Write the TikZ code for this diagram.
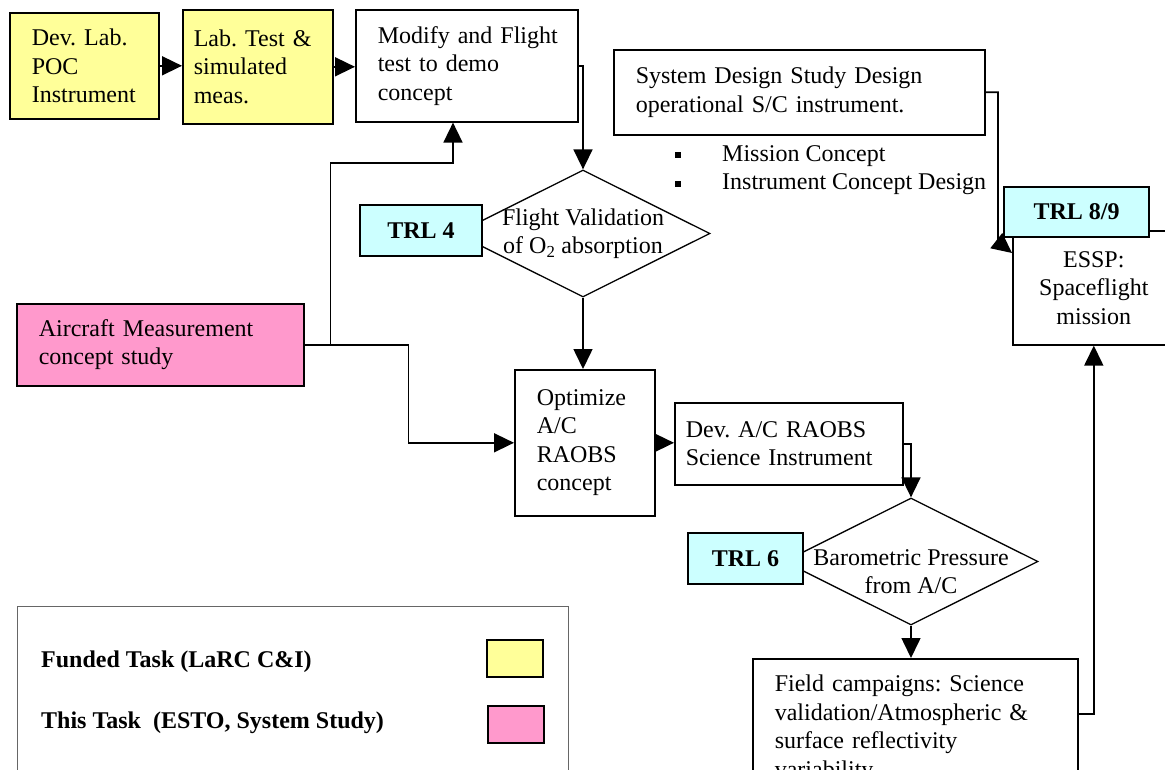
\documentclass[tikz,border=0pt]{standalone}
\usepackage{fontspec}
\setmainfont{Liberation Serif}
\usetikzlibrary{shapes.geometric,arrows.meta,calc}
\definecolor{funded}{HTML}{FFFF99}
\definecolor{thistask}{HTML}{FF99CC}
\definecolor{trlcyan}{HTML}{CCFFFF}
\tikzset{
  task/.style={
    draw,
    rectangle,
    line width=1.6pt,
    anchor=north west,
    align=left,
    inner xsep=22pt,
    inner ysep=4pt,
  },
  decision/.style={
    draw,
    diamond,
    aspect=2,
    line width=1.3pt,
    align=center,
    minimum width=254pt,
    minimum height=127pt,
    inner xsep=-50pt,
    inner ysep=0pt,
  },
  trl/.style={
    draw,
    rectangle,
    line width=2pt,
    fill=trlcyan,
    minimum height=51pt,
    font=\fontsize{24}{28.5}\selectfont\frenchspacing\bfseries,
  },
  swatch/.style={
    draw,
    rectangle,
    line width=1.6pt,
    minimum width=56pt,
    minimum height=37pt,
  },
  flow/.style={
    draw,
    line width=1.6pt,
    -{Triangle[length=20pt,width=19pt]},
  },
}

\begin{document}
\begin{tikzpicture}[x=1pt, y=-1pt, every node/.style={font=\fontsize{24}{28.5}\selectfont\frenchspacing}]
  \useasboundingbox (0,0) rectangle (1165,770);
  \clip (0,0) rectangle (1165,770);

  \node[task, fill=funded, text width=105pt, minimum height=106pt] (lab) at (9,12) {Dev. Lab.\\POC\\Instrument};
  \node[task, fill=funded, inner xsep=11pt, text width=128pt, minimum height=114pt] (labtest) at (182,9) {Lab. Test \&\\simulated\\meas.};
  \node[task, text width=178pt, minimum height=112pt] (modify) at (355,9) {\mbox{Modify and Flight}\\test to demo\\concept};
  \node[task, text width=327pt, minimum height=85pt] (sysdesign) at (613,49) {System Design Study Design\\operational S/C instrument.};
  \node[anchor=north west, align=left, inner sep=0pt] (concepts) at (675,145)
    {\makebox[47pt][l]{\raisebox{3pt}{\rule{6pt}{6pt}}}Mission Concept\\
     \makebox[47pt][l]{\raisebox{3pt}{\rule{6pt}{6pt}}}Instrument Concept Design};
  \node[task, fill=thistask, text width=243pt, minimum height=82pt] (aircraft) at (16,303) {Aircraft Measurement\\concept study};
  \node[decision] (flight) at (583,233.5) {Flight Validation\\of O\textsubscript{2} absorption};
  \node[task, text width=96pt, minimum height=146pt] (optimize) at (514,369) {Optimize\\A/C\\RAOBS\\concept};
  \node[task, inner xsep=11pt, text width=206pt, minimum height=82pt] (devac) at (674,402) {Dev. A/C RAOBS\\Science Instrument};
  \node[decision] (baro) at (911,561.5) {\rule{0pt}{36pt}Barometric Pressure\\from A/C};
  \node[task, text width=281pt, minimum height=140pt] (field) at (752,658) {\mbox{Field campaigns: Science}\\\mbox{validation/Atmospheric \&}\\surface reflectivity\\variability};
  \node[task, align=center, text width=118pt, minimum height=114pt] (essp) at (1012,230) {ESSP:\\Spaceflight\\mission};

  \node[trl, minimum width=122pt] (trlfour) at (421,230.5) {TRL 4};
  \node[trl, minimum width=115pt] (trlsix) at (745.5,558.5) {TRL 6};
  \node[trl, minimum width=145pt, minimum height=50pt] (trleight) at (1076.5,212) {TRL 8/9};

  \node[draw=black!60, line width=1pt, anchor=north west, minimum width=551pt, minimum height=200pt] (legend) at (17,606) {};
  \node[anchor=west, inner sep=0pt, font=\fontsize{24}{28.5}\selectfont\bfseries] (fundedtext) at (41,662) {Funded Task (LaRC C\&I)};
  \node[anchor=west, inner sep=0pt, font=\fontsize{24}{28.5}\selectfont\bfseries] (thistext) at (41,723) {This Task\ \ (ESTO, System Study)};
  \node[swatch, fill=funded] (fundedkey) at (515,658.5) {};
  \node[swatch, fill=thistask] (thiskey) at (516,724.5) {};

  \coordinate (split) at ($(aircraft.east)+(26,0)$);
  \coordinate (drop) at ($(aircraft.east)+(104,0)$);
  \coordinate (rise) at (453,163);
  \coordinate (bend) at (998,242);

  \draw[flow] (lab.east) -- (lab.east -| labtest.west);
  \draw[flow] (labtest.east) -- (labtest.east -| modify.west);
  \draw[flow] (modify.east) -| (flight.north);
  \draw[flow] (aircraft.east) -- (drop) |- (optimize.west);
  \draw[flow] (split) |- (rise) -- (rise |- modify.south);
  \draw[flow] (flight.south) -- (flight.south |- optimize.north);
  \draw[flow] (optimize.east) -- (optimize.east -| devac.west);
  \draw[flow] (devac.east) -| (baro.north);
  \draw[flow] (baro.south) -- (baro.south |- field.north);
  \draw[flow] ($(field.north east)+(0,56)$) -| (essp.south);
  \draw[flow] (sysdesign.east) -| (bend) -- ($(essp.north west)+(0,23)$);
\end{tikzpicture}
\end{document}
